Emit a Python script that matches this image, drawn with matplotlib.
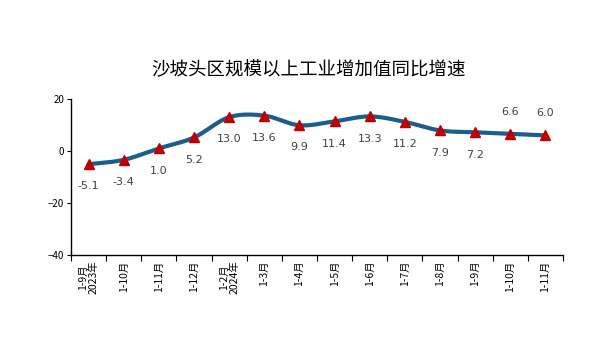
import numpy as np
import matplotlib

matplotlib.use("Agg")
import matplotlib.pyplot as plt

plt.rcParams["font.family"] = ["Noto Sans CJK SC", "DejaVu Sans"]

months = ["1-9月\n2023年", "1-10月", "1-11月", "1-12月", "1-2月\n2024年", "1-3月", "1-4月",
          "1-5月", "1-6月", "1-7月", "1-8月", "1-9月", "1-10月", "1-11月"]
growth = [-5.1, -3.4, 1.0, 5.2, 13.0, 13.6, 9.9, 11.4, 13.3, 11.2, 7.9, 7.2, 6.6, 6.0]
label_above = [False] * 12 + [True, True]


def smooth(xs, ys, n=20):
    # Catmull-Rom 曲线，只用于画平滑线
    px = np.concatenate([[2 * xs[0] - xs[1]], xs, [2 * xs[-1] - xs[-2]]])
    py = np.concatenate([[2 * ys[0] - ys[1]], ys, [2 * ys[-1] - ys[-2]]])
    out_x, out_y = [], []
    t = np.linspace(0, 1, n, endpoint=False)
    for i in range(1, len(px) - 2):
        for p, out in ((px, out_x), (py, out_y)):
            p0, p1, p2, p3 = p[i - 1], p[i], p[i + 1], p[i + 2]
            out.extend(0.5 * (2 * p1 + (-p0 + p2) * t + (2 * p0 - 5 * p1 + 4 * p2 - p3) * t ** 2
                              + (-p0 + 3 * p1 - 3 * p2 + p3) * t ** 3))
    out_x.append(xs[-1])
    out_y.append(ys[-1])
    return out_x, out_y


fig = plt.figure(figsize=(6.06, 3.58), dpi=100)
ax = fig.add_axes([71 / 606, 1 - 255 / 358, 492 / 606, 156 / 358])

x = np.arange(len(growth), dtype=float)
sx, sy = smooth(x, np.array(growth))
ax.plot(sx, sy, color="#1B5E8A", linewidth=3, solid_capstyle="round", zorder=2)
ax.plot(x, growth, linestyle="none", marker="^", markersize=6.5, color="#C00000", zorder=3)

for xi, v, up in zip(x, growth, label_above):
    ax.annotate(f"{v:.1f}", (xi, v), xytext=(0, 16 if up else -16), textcoords="offset points",
                ha="center", va="center", fontsize=8, color="#404040",
                family=["DejaVu Sans"])

ax.set_xlim(-0.5, len(growth) - 0.5)
ax.set_ylim(-40, 20)
ax.set_yticks([-40, -20, 0, 20])
ax.tick_params(axis="y", labelsize=7, length=3, width=0.8, pad=2)
ax.set_xticks(np.arange(len(growth) + 1) - 0.5)
ax.set_xticklabels([])
ax.set_xticks(x, minor=True)
ax.set_xticklabels(months, minor=True, rotation=90, fontsize=7.5, va="top", linespacing=1.0)
ax.tick_params(axis="x", which="major", length=4, width=0.8)
ax.tick_params(axis="x", which="minor", length=0, pad=4)
for s in ("top", "right"):
    ax.spines[s].set_visible(False)
for s in ("left", "bottom"):
    ax.spines[s].set_linewidth(1)

fig.text(0.51, 1 - 70 / 358, "沙坡头区规模以上工业增加值同比增速", ha="center", va="center",
         fontsize=13.3, color="black")

fig.savefig("out.png", dpi=100)
